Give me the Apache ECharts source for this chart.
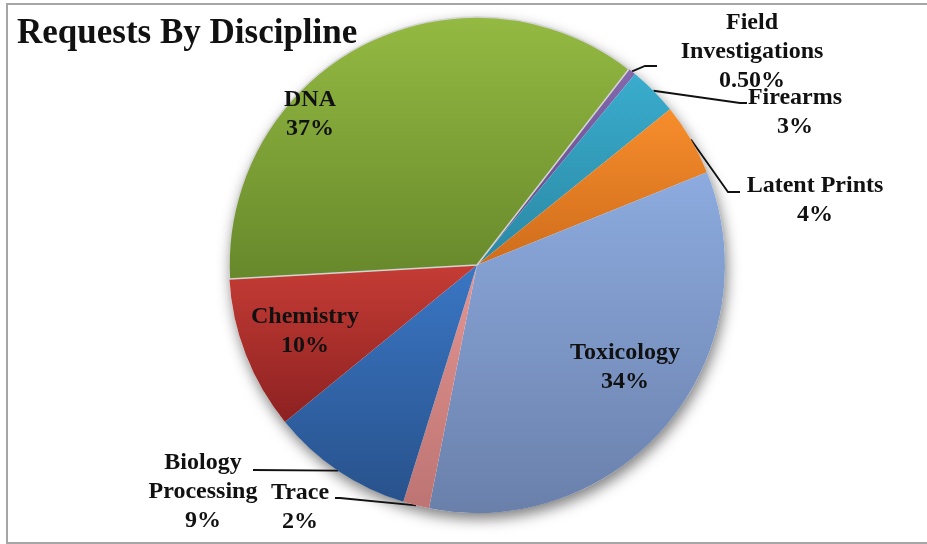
<!DOCTYPE html>
<html>
<head>
<meta charset="utf-8">
<title>Requests By Discipline</title>
<script src="https://cdn.jsdelivr.net/npm/echarts@6/dist/echarts.min.js"></script>
<style>
  html, body { margin: 0; padding: 0; background: #fff; }
  #chart { width: 927px; height: 544px; }
</style>
</head>
<body>
<div id="chart"></div>
<script>
// slice order runs clockwise from the top-right
const categories = [
  "Field Investigations",
  "Firearms",
  "Latent Prints",
  "Toxicology",
  "Trace",
  "Biology Processing",
  "Chemistry",
  "DNA",
];
// share of requests
const shares = [0.5, 3.2, 4.7, 34.2, 1.7, 9.3, 10.0, 36.4];
// percentages as printed on the chart
const pctLabels = ["0.50%", "3%", "4%", "34%", "2%", "9%", "10%", "37%"];

// top / bottom colour of each slice gradient
const colors = [
  ["#8468ad", "#5e4785"],
  ["#3aaccd", "#2a88a4"],
  ["#f78d2c", "#cf6d1c"],
  ["#8dabdf", "#6a80ab"],
  ["#e39592", "#bd7472"],
  ["#3a76c4", "#28528c"],
  ["#c53c35", "#8c2121"],
  ["#94ba42", "#67882b"],
];

const wrapped = {
  "Field Investigations": "Field\nInvestigations",
  "Biology Processing": "Biology\nProcessing",
};

const insideSlices = ["Toxicology", "Chemistry", "DNA"];

// label anchor (centre of text block) and leader bends after the slice edge
const labelPlace = {
  "Field Investigations": { x: 752, y: 52, line: [[645, 66], [657, 66]] },
  Firearms: { x: 795, y: 112, line: [[740, 103], [747, 103]] },
  "Latent Prints": { x: 815, y: 200, line: [[728, 192], [740, 192]] },
  Toxicology: { x: 625, y: 367 },
  Trace: { x: 300, y: 507, line: [[340, 498], [335, 498]] },
  "Biology Processing": { x: 203, y: 492, line: [[253, 470]] },
  Chemistry: { x: 305, y: 331 },
  DNA: { x: 310, y: 114 },
};

const total = shares.reduce((a, b) => a + b, 0);

const chart = echarts.init(document.getElementById("chart"));

const pieData = categories.map((name, i) => {
  const inside = insideSlices.indexOf(name) >= 0;
  return {
    name: name,
    value: shares[i],
    itemStyle: {
      color: new echarts.graphic.LinearGradient(0, 0, 0, 1, [
        { offset: 0, color: colors[i][0] },
        { offset: 1, color: colors[i][1] },
      ]),
      borderColor: name === "DNA" ? "#d4d4d4" : "transparent",
      borderWidth: name === "DNA" ? 1.5 : 0,
    },
    label: { position: inside ? "inside" : "outside" },
    labelLine: { show: !inside },
  };
});

chart.setOption({
  animation: false,
  graphic: [
    {
      type: "rect",
      shape: { x: 7, y: 4, width: 940, height: 539 },
      style: { fill: "none", stroke: "#a6a6a6", lineWidth: 2 },
      z: -1,
    },
  ],
  title: {
    text: "Requests By Discipline",
    left: 12,
    top: 11,
    textStyle: {
      fontFamily: "Liberation Serif",
      fontWeight: "bold",
      fontSize: 35,
      color: "#111",
    },
  },
  series: [
    {
      // soft shadow under the whole pie
      type: "pie",
      silent: true,
      center: [477, 265],
      radius: 248,
      z: 1,
      label: { show: false },
      labelLine: { show: false },
      data: [{ value: total, name: "all" }],
      itemStyle: {
        color: "#fff",
        shadowBlur: 14,
        shadowOffsetX: 2,
        shadowOffsetY: 6,
        shadowColor: "rgba(0,0,0,0.5)",
      },
    },
    {
      type: "pie",
      center: [477, 265],
      radius: 248,
      startAngle: 52.2,
      clockwise: true,
      z: 2,
      avoidLabelOverlap: false,
      data: pieData,
      label: {
        show: true,
        fontFamily: "Liberation Serif",
        fontWeight: "bold",
        fontSize: 24,
        lineHeight: 29,
        color: "#111",
        align: "center",
        formatter: (p) =>
          (wrapped[p.name] || p.name) + "\n" + pctLabels[p.dataIndex],
      },
      labelLine: {
        lineStyle: { color: "#111", width: 1.8 },
      },
      labelLayout: (params) => {
        const name = categories[params.dataIndex];
        const place = labelPlace[name];
        if (!place) return {};
        const out = {
          x: place.x,
          y: place.y,
          align: "center",
          verticalAlign: "middle",
        };
        if (place.line && params.labelLinePoints) {
          out.labelLinePoints = [params.labelLinePoints[0]].concat(place.line);
        }
        return out;
      },
    },
  ],
});
</script>
</body>
</html>
